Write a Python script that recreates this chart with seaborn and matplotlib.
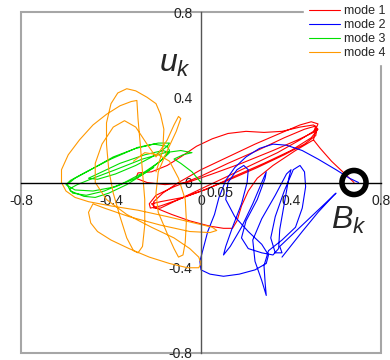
import matplotlib
matplotlib.use("Agg")
import matplotlib.pyplot as plt
import pandas as pd
import seaborn as sns
from matplotlib.patches import Rectangle

# trajectories (B_k, u_k)
mode1_b = [0.68, 0.64, 0.58, 0.53, 0.50, 0.51, 0.52, 0.49, 0.44, 0.35, 0.24, 0.12, 0.00, -0.10,
           -0.17, -0.21, -0.21, -0.18, -0.12, -0.02, 0.10, 0.22, 0.34, 0.44, 0.50, 0.515, 0.51,
           0.46, 0.37, 0.25, 0.12, 0.00, -0.10, -0.18, -0.225, -0.23, -0.20, -0.12, 0.00, 0.12,
           0.25, 0.37, 0.46, 0.51, 0.50, 0.43, 0.32, 0.18, 0.05, -0.06, -0.16, -0.24, -0.29,
           -0.28, -0.22, -0.15, -0.09, -0.02, 0.05, 0.12, 0.20, 0.28, 0.36, 0.44, 0.50, 0.52,
           0.49, 0.40, 0.28, 0.15, 0.03, -0.08, -0.18, -0.22, -0.20, -0.13, -0.05, 0.04, 0.10,
           0.14, 0.16, 0.18, 0.21, 0.25, 0.32, 0.42, 0.50]
mode1_u = [0.00, 0.04, 0.10, 0.16, 0.20, 0.25, 0.275, 0.285, 0.27, 0.23, 0.18, 0.12, 0.06, 0.00,
           -0.05, -0.09, -0.12, -0.12, -0.09, -0.04, 0.02, 0.08, 0.14, 0.20, 0.24, 0.25, 0.22,
           0.18, 0.13, 0.07, 0.01, -0.04, -0.08, -0.11, -0.12, -0.10, -0.06, -0.02, 0.03, 0.09,
           0.15, 0.21, 0.25, 0.265, 0.235, 0.20, 0.15, 0.09, 0.04, 0.00, -0.01, 0.00, 0.02,
           0.045, 0.05, 0.08, 0.12, 0.17, 0.205, 0.23, 0.24, 0.235, 0.24, 0.26, 0.27, 0.25,
           0.21, 0.15, 0.09, 0.03, -0.03, -0.07, -0.09, -0.10, -0.12, -0.15, -0.18, -0.205, -0.215,
           -0.215, -0.18, -0.11, -0.04, 0.02, 0.08, 0.15, 0.20]

mode2_b = [0.70, 0.66, 0.60, 0.52, 0.45, 0.38, 0.32, 0.26, 0.20, 0.15, 0.11, 0.08, 0.06, 0.03,
           0.01, -0.005, 0.00, 0.04, 0.10, 0.17, 0.24, 0.29, 0.30, 0.27, 0.21, 0.15, 0.11, 0.12,
           0.16, 0.19, 0.21, 0.205, 0.18, 0.14, 0.11, 0.10, 0.13, 0.18, 0.23, 0.27, 0.29, 0.285,
           0.25, 0.20, 0.18, 0.21, 0.27, 0.32, 0.345, 0.35, 0.37, 0.39, 0.40, 0.38, 0.33, 0.27,
           0.23, 0.24, 0.27, 0.29, 0.285, 0.28, 0.30, 0.36, 0.42, 0.45, 0.465, 0.46, 0.44, 0.41,
           0.37, 0.33, 0.31, 0.33, 0.36, 0.35, 0.38, 0.45, 0.53, 0.60, 0.59, 0.52, 0.45, 0.39,
           0.36]
mode2_u = [0.00, 0.02, 0.06, 0.11, 0.15, 0.175, 0.18, 0.16, 0.12, 0.07, 0.01, -0.07, -0.15, -0.23,
           -0.31, -0.37, -0.41, -0.43, -0.44, -0.43, -0.41, -0.38, -0.34, -0.29, -0.23, -0.16, -0.08, 0.00,
           0.06, 0.08, 0.06, 0.00, -0.10, -0.21, -0.30, -0.34, -0.30, -0.21, -0.10, 0.00, 0.05, 0.02,
           -0.08, -0.18, -0.26, -0.31, -0.33, -0.34, -0.31, -0.22, -0.10, 0.02, 0.06, 0.04, -0.06, -0.17,
           -0.27, -0.37, -0.46, -0.53, -0.47, -0.39, -0.32, -0.27, -0.21, -0.12, -0.02, 0.05, 0.08, 0.06,
           -0.04, -0.16, -0.26, -0.33, -0.33, -0.30, -0.27, -0.20, -0.12, -0.05, -0.06, -0.14, -0.23, -0.31,
           -0.35]

mode3_b = [0.00, -0.04, -0.09, -0.12, -0.08, -0.04, -0.09, -0.16, -0.26, -0.38, -0.48, -0.55, -0.585,
           -0.57, -0.51, -0.43, -0.34, -0.25, -0.18, -0.14, -0.15, -0.21, -0.29, -0.39, -0.49, -0.56,
           -0.595, -0.58, -0.52, -0.47, -0.41, -0.33, -0.24, -0.17, -0.14, -0.17, -0.25, -0.36, -0.46,
           -0.50, -0.46, -0.38, -0.29, -0.20, -0.15, -0.14, -0.19, -0.28, -0.40, -0.51, -0.58, -0.60,
           -0.56, -0.48, -0.38, -0.29, -0.21]
mode3_u = [0.00, 0.05, 0.09, 0.11, 0.13, 0.14, 0.15, 0.14, 0.11, 0.06, 0.02, -0.01, -0.03,
           -0.05, -0.06, -0.04, 0.00, 0.05, 0.10, 0.15, 0.17, 0.18, 0.16, 0.12, 0.06, 0.02,
           -0.01, -0.04, -0.065, -0.07, -0.05, -0.01, 0.05, 0.11, 0.14, 0.15, 0.13, 0.09, 0.04,
           0.02, 0.015, 0.04, 0.08, 0.13, 0.17, 0.185, 0.185, 0.165, 0.11, 0.05, 0.01, -0.01,
           -0.035, -0.04, -0.02, 0.02, 0.07]

mode4_b = [-0.20, -0.17, -0.165, -0.18, -0.20, -0.24, -0.29, -0.33, -0.37, -0.40, -0.42, -0.42, -0.41,
           -0.39, -0.36, -0.33, -0.30, -0.28, -0.26, -0.25, -0.25, -0.26, -0.27, -0.28, -0.285, -0.31,
           -0.36, -0.42, -0.48, -0.54, -0.59, -0.62, -0.62, -0.60, -0.56, -0.50, -0.40, -0.28, -0.15,
           -0.03, 0.05, 0.07, 0.04, -0.05, -0.18, -0.32, -0.43, -0.48, -0.50, -0.49, -0.46, -0.40,
           -0.32, -0.23, -0.14, -0.06, -0.01, 0.00, -0.01, -0.05, -0.12, -0.22, -0.33, -0.42, -0.47,
           -0.47, -0.44, -0.39, -0.34, -0.29, -0.24, -0.20, -0.15, -0.12, -0.10, -0.09, -0.11, -0.15,
           -0.19, -0.20, -0.19, -0.15, -0.12, -0.10, -0.08, -0.07, -0.065, -0.07, -0.10, -0.14, -0.19,
           -0.25, -0.30]
mode4_u = [0.05, 0.15, 0.25, 0.32, 0.37, 0.40, 0.43, 0.44, 0.42, 0.37, 0.28, 0.18, 0.06,
           -0.05, -0.16, -0.26, -0.32, -0.33, -0.30, -0.20, -0.08, 0.05, 0.18, 0.30, 0.385, 0.38,
           0.36, 0.32, 0.27, 0.20, 0.13, 0.06, 0.00, -0.04, -0.07, -0.09, -0.11, -0.13, -0.16,
           -0.19, -0.21, -0.225, -0.235, -0.23, -0.20, -0.16, -0.12, -0.10, -0.14, -0.19, -0.23, -0.27,
           -0.31, -0.35, -0.38, -0.40, -0.40, -0.38, -0.35, -0.31, -0.26, -0.21, -0.15, -0.08, 0.00,
           0.09, 0.18, 0.26, 0.29, 0.26, 0.18, 0.12, 0.20, 0.27, 0.31, 0.30, 0.24, 0.15,
           0.05, -0.05, -0.14, -0.24, -0.31, -0.35, -0.34, -0.28, -0.18, -0.08, 0.02, 0.10, 0.13,
           0.14, 0.10]

modes = ["mode 1", "mode 2", "mode 3", "mode 4"]
colors = ["#ff0000", "#0000ff", "#00e000", "#ff9900"]
start_b, start_u = 0.68, 0.0

ticks = [-0.8, -0.4, 0, 0.4, 0.8]
tick_labels = ["-0.8", "-0.4", "0", "0.4", "0.8"]

frames = []
for name, b, u in zip(modes, [mode1_b, mode2_b, mode3_b, mode4_b], [mode1_u, mode2_u, mode3_u, mode4_u]):
    d = pd.DataFrame({"B": b, "u": u})
    d["mode"] = name
    frames.append(d)
df = pd.concat(frames, ignore_index=True)

sns.set_style("white")
plt.rcParams["font.family"] = ["Liberation Sans", "DejaVu Sans"]
plt.rcParams["mathtext.fontset"] = "custom"
plt.rcParams["mathtext.rm"] = "Liberation Sans"
plt.rcParams["mathtext.it"] = "Liberation Sans:italic"

fig = plt.figure(figsize=(3.9, 3.6), dpi=100)
ax = fig.add_axes([21 / 390, 7 / 360, 360 / 390, 341 / 360])

sns.lineplot(data=df, x="B", y="u", hue="mode", units="mode", estimator=None, sort=False,
             palette=colors, linewidth=0.8, ax=ax)

# starting point
ax.scatter([start_b], [start_u], s=300, facecolors="none", edgecolors="black", linewidths=4, zorder=5)

ax.set_xlim(-0.8, 0.8)
ax.set_ylim(-0.8, 0.8)
ax.set_xlabel("")
ax.set_ylabel("")

for s in ["top", "right"]:
    ax.spines[s].set_visible(False)
ax.spines["left"].set_position(("data", 0))
ax.spines["bottom"].set_position(("data", 0))
ax.spines["left"].set_color("#555555")
ax.spines["bottom"].set_color("black")
ax.spines["left"].set_linewidth(1.0)
ax.spines["bottom"].set_linewidth(1.0)
ax.add_patch(Rectangle((0, 0), 1, 1, transform=ax.transAxes, fill=False,
                       edgecolor="#a6a6a6", linewidth=1.5, clip_on=False, zorder=0))

ax.set_xticks(ticks)
ax.set_xticklabels(tick_labels)
ax.set_yticks(ticks)
ax.set_yticklabels(tick_labels)
ax.tick_params(axis="x", direction="in", length=3, pad=8, labelsize=10)
ax.tick_params(axis="y", direction="out", length=3, pad=3, labelsize=10)
ax.tick_params(axis="both", labelcolor="#222222", colors="#333333")

ax.text(0.085, -0.047, "0.05", fontsize=10, ha="center", va="center", color="#222222")
ax.text(-0.115, 0.555, r"$u_k$", fontsize=23, ha="center", va="center")
ax.text(0.655, -0.18, r"$B_k$", fontsize=23, ha="center", va="center")

handles, labels = ax.get_legend_handles_labels()
leg = ax.legend(handles, labels, loc="upper right", bbox_to_anchor=(1.0, 1.0),
                bbox_transform=fig.transFigure, fontsize=9, frameon=True, fancybox=False,
                edgecolor="white", facecolor="white", framealpha=1, handlelength=2.5,
                handletextpad=0.3, labelspacing=0.17, borderpad=0.4, borderaxespad=0.0)

fig.savefig("out.png", dpi=100)
